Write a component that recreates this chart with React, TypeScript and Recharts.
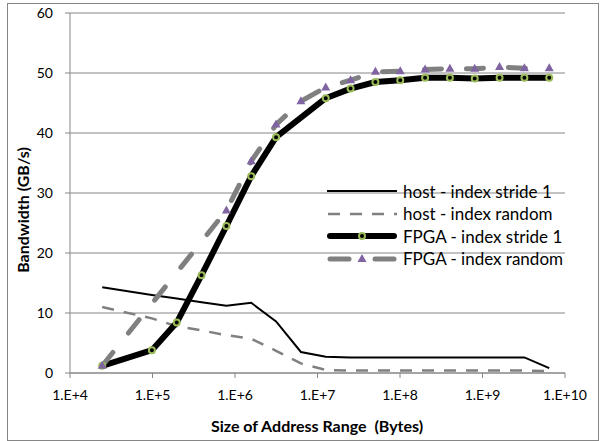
import { LineChart, Line, XAxis, YAxis, CartesianGrid, Label } from 'recharts'

// address range sizes (bytes)
const hostSizes = [24576, 98304, 196608, 393216, 786432, 1572864, 3145728, 6291456, 12582912, 25165824, 50331648, 100663296, 201326592, 402653184, 805306368, 1610612736, 3221225472, 6442450944]
const hostStride = [14.3, 13.0, 12.4, 11.8, 11.2, 11.7, 8.6, 3.5, 2.7, 2.6, 2.6, 2.6, 2.6, 2.6, 2.6, 2.6, 2.6, 0.8]
const hostRandom = [11.0, 9.1, 7.8, 7.1, 6.3, 5.7, 3.7, 1.6, 0.5, 0.4, 0.4, 0.4, 0.4, 0.4, 0.4, 0.4, 0.4, 0.3]

const fpgaStrideSizes = [24576, 98304, 196608, 393216, 786432, 1572864, 3145728, 12582912, 25165824, 50331648, 100663296, 201326592, 402653184, 805306368, 1610612736, 3221225472, 6442450944]
const fpgaStride = [1.2, 3.8, 8.4, 16.3, 24.5, 32.8, 39.3, 45.8, 47.4, 48.5, 48.8, 49.2, 49.2, 49.1, 49.2, 49.2, 49.2]

const fpgaRandomSizes = [24576, 786432, 1572864, 3145728, 6291456, 12582912, 25165824, 50331648, 100663296, 201326592, 402653184, 805306368, 1610612736, 3221225472, 6442450944]
const fpgaRandom = [1.2, 27.1, 35.3, 41.4, 45.3, 47.6, 48.8, 50.2, 50.3, 50.6, 50.7, 50.7, 51.0, 50.8, 50.8]

const xTicks = [1e4, 1e5, 1e6, 1e7, 1e8, 1e9, 1e10]
const yTicks = [0, 10, 20, 30, 40, 50, 60]

const seriesNames = ['host - index stride 1', 'host - index random', 'FPGA - index stride 1', 'FPGA - index random']

const hostStrideData = hostSizes.map((x, i) => ({ x, y: hostStride[i] }))
const hostRandomData = hostSizes.map((x, i) => ({ x, y: hostRandom[i] }))
const fpgaStrideData = fpgaStrideSizes.map((x, i) => ({ x, y: fpgaStride[i] }))
const fpgaRandomData = fpgaRandomSizes.map((x, i) => ({ x, y: fpgaRandom[i] }))

const FONT = 'Lato, "Open Sans", sans-serif'
const AXIS = '#868686'
const GREEN = '#9BBB59'
const PURPLE = '#8064A2'
const GRAY = '#808080'

const CircleDot = (props: any) => {
  const { cx, cy } = props
  if (cx == null || cy == null) return null
  return <circle cx={cx} cy={cy} r={3} fill="#000" stroke={GREEN} strokeWidth={2} />
}

const TriangleDot = (props: any) => {
  const { cx, cy } = props
  if (cx == null || cy == null) return null
  return <path d={`M${cx},${cy - 5} L${cx + 4.5},${cy + 3} L${cx - 4.5},${cy + 3} Z`} fill={PURPLE} />
}

const legendSample = (i: number) => {
  if (i === 0) return <line x1={0} y1={6} x2={70} y2={6} stroke="#000" strokeWidth={2} />
  if (i === 1) return <line x1={1} y1={6} x2={70} y2={6} stroke={GRAY} strokeWidth={2.5} strokeDasharray="12 10" />
  if (i === 2) return (
    <g>
      <line x1={3} y1={6} x2={67} y2={6} stroke="#000" strokeWidth={6} strokeLinecap="round" />
      <circle cx={35} cy={6} r={3} fill="#000" stroke={GREEN} strokeWidth={2} />
    </g>
  )
  return (
    <g>
      <line x1={3} y1={6} x2={22} y2={6} stroke={GRAY} strokeWidth={5} strokeLinecap="round" />
      <line x1={48} y1={6} x2={67} y2={6} stroke={GRAY} strokeWidth={5} strokeLinecap="round" />
      <path d="M35,1 L39.5,9 L30.5,9 Z" fill={PURPLE} />
    </g>
  )
}

export default function App() {
  return (
    <div style={{ position: 'absolute', left: 0, top: 0, width: 600, height: 441, background: '#fff' }}>
      <div style={{ position: 'absolute', left: 7, top: 3, width: 590, height: 436, border: `1px solid ${AXIS}` }} />
      <div style={{ position: 'absolute', left: 0, top: 0 }}>
        <LineChart width={600} height={441} margin={{ top: 13, right: 35, bottom: 0, left: 0 }}>
          <CartesianGrid vertical={false} stroke={AXIS} />
          <XAxis
            dataKey="x"
            type="number"
            scale="log"
            domain={[1e4, 1e10]}
            ticks={xTicks}
            allowDataOverflow
            height={68}
            tickFormatter={(v: number) => `1.E+${Math.round(Math.log10(v))}`}
            tick={{ fill: '#000', fontSize: 14, fontFamily: FONT }}
            tickSize={5}
            tickMargin={12}
            stroke={AXIS}
          >
            <Label
              content={() => (
                <text x={317} y={425} textAnchor="middle" dominantBaseline="central" fontFamily={FONT} fontSize={16} fontWeight="bold" fill="#000" style={{ whiteSpace: 'pre' }}>
                  Size of Address Range  (Bytes)
                </text>
              )}
            />
          </XAxis>
          <YAxis
            type="number"
            domain={[0, 60]}
            ticks={yTicks}
            width={70}
            tick={{ fill: '#000', fontSize: 14, fontFamily: FONT }}
            tickSize={5}
            tickMargin={12}
            stroke={AXIS}
          >
            <Label
              content={() => (
                <text x={22} y={210} transform="rotate(-90 22 210)" textAnchor="middle" dominantBaseline="central" fontFamily={FONT} fontSize={16} fontWeight="bold" fill="#000">
                  Bandwidth (GB/s)
                </text>
              )}
            />
          </YAxis>
          <Line data={hostStrideData} dataKey="y" name={seriesNames[0]} stroke="#000" strokeWidth={2} dot={false} isAnimationActive={false} type="linear" />
          <Line data={hostRandomData} dataKey="y" name={seriesNames[1]} stroke={GRAY} strokeWidth={2.5} strokeDasharray="12 10" dot={false} isAnimationActive={false} type="linear" />
          <Line data={fpgaStrideData} dataKey="y" name={seriesNames[2]} stroke="#000" strokeWidth={6} strokeLinejoin="round" dot={<CircleDot />} isAnimationActive={false} type="linear" />
          <Line data={fpgaRandomData} dataKey="y" name={seriesNames[3]} stroke={GRAY} strokeWidth={5} strokeDasharray="17 25" strokeLinecap="round" dot={<TriangleDot />} isAnimationActive={false} type="linear" />
        </LineChart>
      </div>
      <div style={{ position: 'absolute', left: 327, top: 180, fontFamily: FONT, fontSize: 17, color: '#000' }}>
        {seriesNames.map((name, i) => (
          <div key={name} style={{ display: 'flex', alignItems: 'center', height: 22.5, whiteSpace: 'nowrap' }}>
            <svg width={72} height={12} style={{ marginRight: 4 }}>{legendSample(i)}</svg>
            <span>{name}</span>
          </div>
        ))}
      </div>
    </div>
  )
}
